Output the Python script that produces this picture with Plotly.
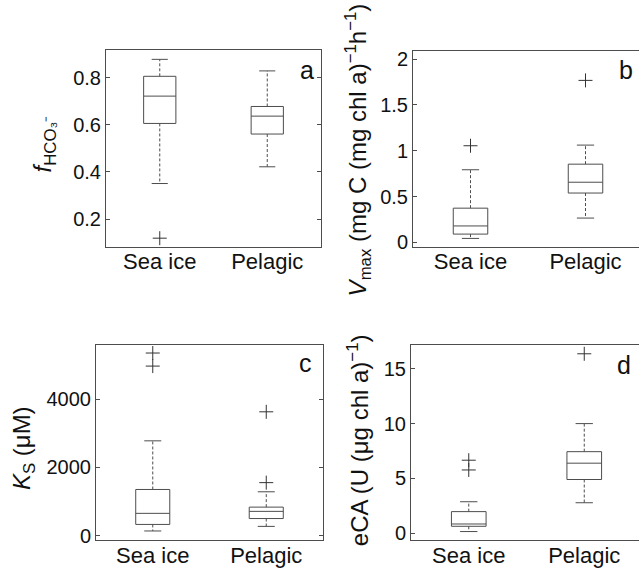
import plotly.graph_objects as go

# ---------------- data ----------------
categories = ["Sea ice", "Pelagic"]
positions = [1, 2]

# panel a : f_HCO3-
a_lower = [0.351, 0.422]
a_q1 = [0.606, 0.561]
a_med = [0.722, 0.637]
a_q3 = [0.806, 0.678]
a_upper = [0.878, 0.829]
a_outliers = [[0.119], []]

# panel b : Vmax
b_lower = [0.043, 0.265]
b_q1 = [0.090, 0.538]
b_med = [0.179, 0.656]
b_q3 = [0.373, 0.853]
b_upper = [0.792, 1.061]
b_outliers = [[1.054], [1.767]]

# panel c : Ks
c_lower = [134, 269]
c_q1 = [326, 499]
c_med = [652, 710]
c_q3 = [1353, 835]
c_upper = [2782, 1285]
c_outliers = [[4978, 5362], [1554, 3635]]

# panel d : eCA
d_lower = [0.15, 2.78]
d_q1 = [0.63, 4.90]
d_med = [0.84, 6.39]
d_q3 = [1.97, 7.44]
d_upper = [2.87, 10.0]
d_outliers = [[5.77, 6.66], [16.37]]

a_ticks = [0.2, 0.4, 0.6, 0.8]
b_ticks = [0, 0.5, 1, 1.5, 2]
c_ticks = [0, 2000, 4000]
d_ticks = [0, 5, 10, 15]

# ---------------- style ----------------
W, H = 639, 572
FONT = "Arial, Liberation Sans, sans-serif"
LINE = "#4d4d4d"
BOXW = 0.3
CAPW = 0.075

fig = go.Figure()


def add_panel(n, lower, q1, med, q3, upper, outliers):
    xa = "x" if n == 1 else f"x{n}"
    ya = "y" if n == 1 else f"y{n}"
    fig.add_trace(go.Box(
        x=positions, q1=q1, median=med, q3=q3,
        lowerfence=q1, upperfence=q3, width=BOXW,
        whiskerwidth=0, boxpoints=False,
        line=dict(color=LINE, width=1), fillcolor="rgba(0,0,0,0)",
        xaxis=xa, yaxis=ya, showlegend=False, hoverinfo="skip"))
    wx, wy, cx, cy = [], [], [], []
    for p, lo, a, b, up in zip(positions, lower, q1, q3, upper):
        wx += [p, p, None, p, p, None]
        wy += [b, up, None, a, lo, None]
        cx += [p - CAPW, p + CAPW, None, p - CAPW, p + CAPW, None]
        cy += [up, up, None, lo, lo, None]
    fig.add_trace(go.Scatter(x=wx, y=wy, mode="lines",
                             line=dict(color=LINE, width=1, dash="3px,2px"),
                             xaxis=xa, yaxis=ya, showlegend=False, hoverinfo="skip"))
    fig.add_trace(go.Scatter(x=cx, y=cy, mode="lines",
                             line=dict(color=LINE, width=1),
                             xaxis=xa, yaxis=ya, showlegend=False, hoverinfo="skip"))
    ox, oy = [], []
    for p, outs in zip(positions, outliers):
        ox += [p] * len(outs)
        oy += outs
    fig.add_trace(go.Scatter(x=ox, y=oy, mode="markers",
                             marker=dict(symbol="cross-thin", size=10,
                                         line=dict(color="#333333", width=1)),
                             xaxis=xa, yaxis=ya, showlegend=False, hoverinfo="skip"))


add_panel(1, a_lower, a_q1, a_med, a_q3, a_upper, a_outliers)
add_panel(2, b_lower, b_q1, b_med, b_q3, b_upper, b_outliers)
add_panel(3, c_lower, c_q1, c_med, c_q3, c_upper, c_outliers)
add_panel(4, d_lower, d_q1, d_med, d_q3, d_upper, d_outliers)


def px_x(a, b):
    return [a / W, min(b / W, 1.0)]


def px_y(top, bottom):
    return [1 - bottom / H, 1 - top / H]


def xaxis(domain, anchor, rng):
    return dict(domain=domain, anchor=anchor, range=rng,
                tickvals=positions, ticktext=categories, ticks="",
                ticklabelstandoff=-5,
                showline=True, linecolor=LINE, linewidth=1, mirror=True,
                showgrid=False, zeroline=False,
                tickfont=dict(family=FONT, size=22, color="#111"))


def yaxis(domain, anchor, rng, ticks, labels, mirror):
    return dict(domain=domain, anchor=anchor, range=rng,
                tickvals=ticks, ticktext=labels, ticks="inside", ticklen=4,
                tickcolor=LINE, showline=True, linecolor=LINE, linewidth=1,
                mirror=mirror, showgrid=False, zeroline=False,
                tickfont=dict(family=FONT, size=20, color="#111"))


fig.update_layout(
    width=W, height=H, margin=dict(l=0, r=0, t=0, b=0),
    paper_bgcolor="white", plot_bgcolor="white",
    xaxis=xaxis(px_x(106, 321), "y", [0.5, 2.5]),
    yaxis=yaxis(px_y(48, 248), "x", [0.083, 0.917], a_ticks,
                [f"{v:g}" for v in a_ticks], "ticks"),
    xaxis2=xaxis(px_x(413, 639), "y2", [0.5, 0.5 + 226 / 115]),
    yaxis2=yaxis(px_y(49, 248), "x2", [-0.047, 2.086], b_ticks,
                 [f"{v:g}" for v in b_ticks], False),
    xaxis3=xaxis(px_x(96, 323), "y3", [0.5, 2.5]),
    yaxis3=yaxis(px_y(348, 547), "x3", [-144, 5600], c_ticks,
                 [f"{v:g}" for v in c_ticks], "ticks"),
    xaxis4=xaxis(px_x(411, 639), "y4", [0.5, 0.5 + 228 / 115.5]),
    yaxis4=yaxis(px_y(348, 547), "x4", [-0.66, 17.18], d_ticks,
                 [f"{v:g}" for v in d_ticks], False),
)

# panel letters
letters = [("a", 307, 68), ("b", 626, 68), ("c", 305, 366), ("d", 624, 368)]
for t, x, y in letters:
    fig.add_annotation(text=t, x=x / W, y=1 - y / H, xref="paper", yref="paper",
                       xanchor="center", yanchor="middle", showarrow=False,
                       font=dict(family=FONT, size=25, color="#111"))

# axis titles
titles = [
    ("<i>f</i><sub>HCO₃⁻</sub>", 44, 144),
    ("<i>V</i><sub>max</sub> (mg C (mg chl a)<sup>−1</sup>h<sup>−1</sup>)", 358, 150),
    ("<i>K</i><sub>S</sub> (μM)", 23, 453),
    ("eCA (U (μg chl a)<sup>−1</sup>)", 358, 445),
]
for t, x, y in titles:
    fig.add_annotation(text=t, x=x / W, y=1 - y / H, xref="paper", yref="paper",
                       xanchor="center", yanchor="middle", showarrow=False,
                       textangle=-90,
                       font=dict(family=FONT, size=24, color="#111"))

fig.write_html("out.html")
